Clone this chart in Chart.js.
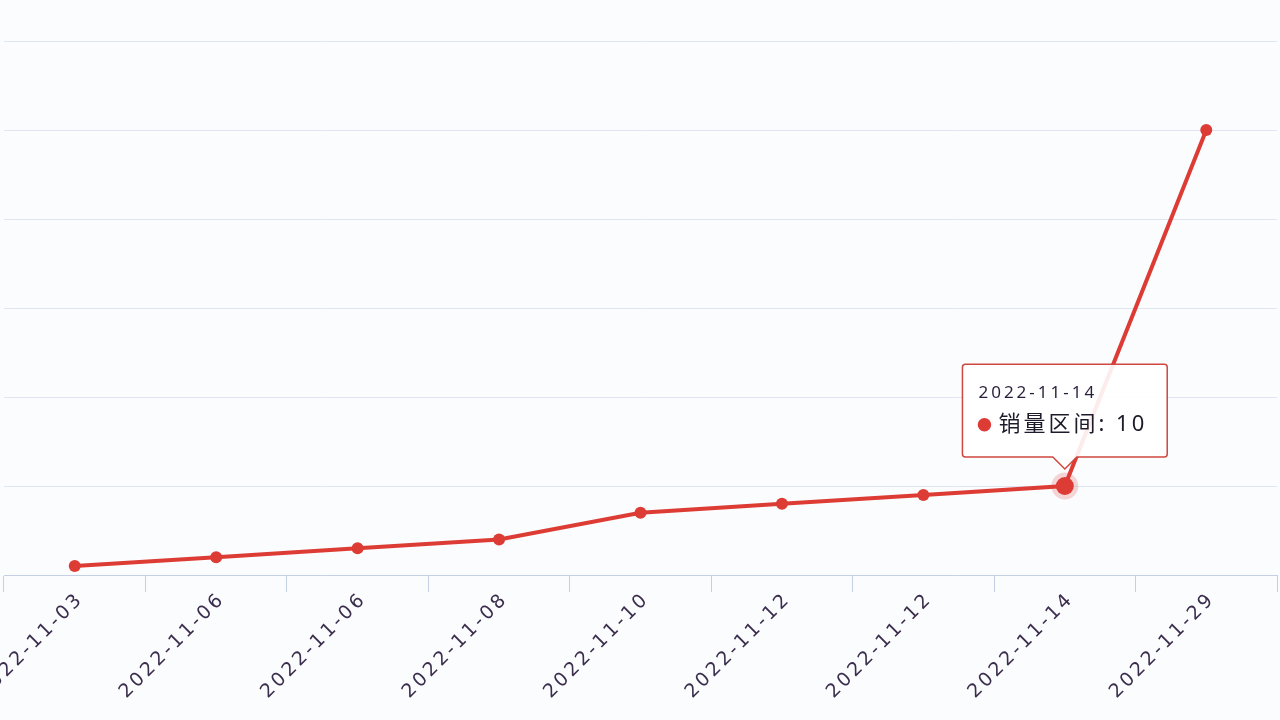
<!DOCTYPE html>
<html>
<head>
<meta charset="utf-8">
<script src="https://cdn.jsdelivr.net/npm/chart.js@4"></script>
<style>
  html, body { margin: 0; padding: 0; background: #fbfcfe; }
  #wrap { width: 1280px; height: 720px; position: relative; }
</style>
</head>
<body>
<div id="wrap"><canvas id="chart"></canvas></div>
<script>
// data
const dates = ['2022-11-03', '2022-11-06', '2022-11-06', '2022-11-08', '2022-11-10',
               '2022-11-12', '2022-11-12', '2022-11-14', '2022-11-29']
const salesRange = [1, 2, 3, 4, 7, 8, 9, 10, 50]
const seriesName = '销量区间'
const activeIndex = 7

const red = '#dd3c35'
const fontFamily = '"Noto Sans", "Noto Sans CJK SC", sans-serif'

// spread the letters a bit like the original screenshot font
const spacing = {
    id: 'spacing',
    beforeLayout(chart) { chart.ctx.letterSpacing = '3px' },
    beforeDraw(chart) { chart.ctx.letterSpacing = '3px' }
}

const chart = new Chart(document.getElementById('chart'), {
    type: 'line',
    data: {
        labels: dates,
        datasets: [{
            label: seriesName,
            data: salesRange,
            borderColor: red,
            backgroundColor: red,
            borderWidth: 4,
            pointRadius: 6,
            pointBackgroundColor: red,
            pointBorderWidth: 0,
            pointHoverRadius: 9,
            pointHoverBackgroundColor: red,
            pointHoverBorderColor: 'rgba(221,60,53,0.2)',
            pointHoverBorderWidth: 9,
            tension: 0
        }]
    },
    options: {
        responsive: true,
        maintainAspectRatio: false,
        animation: false,
        events: [],
        layout: { autoPadding: false, padding: { left: 4, right: 3, top: 41, bottom: 0 } },
        plugins: {
            legend: { display: false },
            tooltip: {
                enabled: true,
                backgroundColor: 'rgba(255,255,255,0.9)',
                borderColor: '#d0473f',
                borderWidth: 1.5,
                cornerRadius: 3,
                caretSize: 12,
                caretPadding: 17,
                xAlign: 'center',
                yAlign: 'bottom',
                padding: { top: 19, bottom: 19, left: 16, right: 20 },
                titleColor: '#2a1f3a',
                titleFont: { family: fontFamily, size: 17, weight: 'normal' },
                titleMarginBottom: 8,
                bodyColor: '#1e1a2a',
                bodyFont: { family: fontFamily, size: 22 },
                usePointStyle: true,
                boxWidth: 12,
                boxHeight: 12,
                boxPadding: 6,
                callbacks: {
                    labelColor() { return { borderColor: red, backgroundColor: red } },
                    labelPointStyle() { return { pointStyle: 'circle', rotation: 0 } }
                }
            }
        },
        scales: {
            x: {
                offset: true,
                grid: { offset: true, drawOnChartArea: false, color: '#c6d0e4', tickLength: 17 },
                border: { color: '#c6d0e4', width: 1 },
                ticks: {
                    autoSkip: false,
                    minRotation: 45,
                    maxRotation: 45,
                    padding: -4,
                    labelOffset: 6,
                    color: '#3b2d4d',
                    font: { family: '"DejaVu Sans", sans-serif', size: 19 }
                },
                afterFit(scale) {
                    // let the first label run off the left edge, as in the original
                    scale.paddingLeft = 0
                    scale.paddingRight = 0
                    scale.height = 145
                }
            },
            y: {
                min: 0,
                max: 60,
                ticks: { display: false, stepSize: 10 },
                border: { display: false },
                grid: { color: '#e0e6f1', lineWidth: 1, drawTicks: false },
                afterFit(scale) { scale.width = 0 }
            }
        }
    },
    plugins: [spacing]
})

const pt = chart.getDatasetMeta(0).data[activeIndex]
chart.setActiveElements([{ datasetIndex: 0, index: activeIndex }])
chart.tooltip.setActiveElements([{ datasetIndex: 0, index: activeIndex }], { x: pt.x, y: pt.y })
chart.update()
</script>
</body>
</html>
